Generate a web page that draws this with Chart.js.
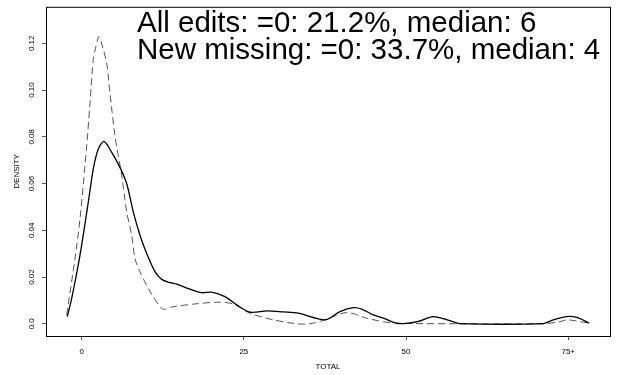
<!DOCTYPE html>
<html>
<head>
<meta charset="utf-8">
<script src="https://cdn.jsdelivr.net/npm/chart.js@4/dist/chart.umd.min.js"></script>
<style>
  html, body { margin: 0; padding: 0; background: #fff; }
  #wrap { width: 618px; height: 375px; }
</style>
</head>
<body>
<div id="wrap"><canvas id="densChart" width="618" height="375"></canvas></div>
<script>
// 곡선 데이터 (TOTAL, DENSITY)
const allX = [-2.22, -1.54, -0.26, 1.02, 1.79, 2.56, 3.44, 4.63, 5.90, 6.94, 7.96, 8.99, 10.02, 11.30, 12.33, 13.61, 14.65, 16.70, 18.50, 20.04, 22.09, 23.90, 25.95, 28.52, 31.08, 33.40, 37.51, 39.82, 41.87, 43.17, 44.96, 46.50, 48.57, 50.11, 51.90, 54.21, 56.78, 58.33, 71.17, 72.71, 74.78, 76.32, 78.22];
const allY = [0.0031, 0.0109, 0.0294, 0.0520, 0.0663, 0.0748, 0.0780, 0.0733, 0.0669, 0.0599, 0.0478, 0.0379, 0.0301, 0.0223, 0.0190, 0.0176, 0.0170, 0.0148, 0.0133, 0.0135, 0.0116, 0.0081, 0.0050, 0.0055, 0.0051, 0.0046, 0.0017, 0.0052, 0.0069, 0.0063, 0.0038, 0.0024, 0.0002, 0.0002, 0.0010, 0.0031, 0.0013, 0.0001, 0.0001, 0.0017, 0.0031, 0.0027, 0.0003];

const newX = [-2.31, -1.03, -0.26, 0.77, 1.28, 1.79, 2.20, 2.67, 3.33, 3.85, 4.36, 5.13, 6.17, 6.94, 7.71, 8.22, 8.99, 10.27, 11.04, 12.49, 14.12, 17.21, 20.81, 23.37, 25.95, 29.54, 33.15, 35.20, 37.51, 40.86, 43.94, 47.53, 56.78, 71.17, 73.74, 74.78, 76.83, 78.22];
const newY = [0.0038, 0.0279, 0.0448, 0.0760, 0.0944, 0.1130, 0.1187, 0.1229, 0.1173, 0.1116, 0.0988, 0.0804, 0.0634, 0.0478, 0.0379, 0.0279, 0.0222, 0.0151, 0.0116, 0.0063, 0.0073, 0.0084, 0.0092, 0.0085, 0.0045, 0.0017, 0.0000, 0.0000, 0.0017, 0.0048, 0.0024, 0.0005, 0.0000, 0.0000, 0.0009, 0.0017, 0.0009, 0.0003];

const xTicks = [0, 25, 50, 75];
const xTickLabels = ['0', '25', '50', '75+'];
const yTicks = [0, 0.02, 0.04, 0.06, 0.08, 0.10, 0.12];
const yTickLabels = ['0.0', '0.02', '0.04', '0.06', '0.08', '0.10', '0.12'];

const noteLines = [
  'All edits: =0: 21.2%, median: 6',
  'New missing: =0: 33.7%, median: 4'
];

const FONT = 'Arial, "Liberation Sans", Helvetica, sans-serif';

// 플롯 테두리 + 주석 텍스트
const framePlugin = {
  id: 'frame',
  afterDraw(chart) {
    const { ctx, chartArea: a } = chart;
    ctx.save();
    ctx.strokeStyle = '#000';
    ctx.lineWidth = 1;
    ctx.strokeRect(a.left + 0.5, a.top + 0.5, a.right - a.left, a.bottom - a.top);
    ctx.fillStyle = '#000';
    ctx.font = '29.5px ' + FONT;
    ctx.textBaseline = 'alphabetic';
    ctx.textAlign = 'left';
    ctx.fillText(noteLines[0], 137, 32);
    ctx.fillText(noteLines[1], 137, 59);
    ctx.restore();
  }
};

const pts = (xs, ys) => xs.map((x, i) => ({ x, y: ys[i] }));

new Chart(document.getElementById('densChart'), {
  type: 'scatter',
  data: {
    datasets: [
      {
        label: 'All edits',
        data: pts(allX, allY),
        showLine: true,
        borderColor: '#000',
        borderWidth: 1.3,
        pointRadius: 0,
        tension: 0.3
      },
      {
        label: 'New missing',
        data: pts(newX, newY),
        showLine: true,
        borderColor: '#555',
        borderWidth: 1,
        borderDash: [7, 4],
        pointRadius: 0,
        tension: 0.3
      }
    ]
  },
  options: {
    responsive: false,
    animation: false,
    layout: { padding: { top: 5, right: 8, left: 0, bottom: 0 } },
    plugins: {
      legend: { display: false },
      tooltip: { enabled: false }
    },
    scales: {
      x: {
        type: 'linear',
        min: -5.5,
        max: 81.44,
        afterBuildTicks: s => { s.ticks = xTicks.map(v => ({ value: v })); },
        afterFit: s => { s.height = 39; },
        border: { display: false },
        grid: { drawOnChartArea: false, drawTicks: true, tickLength: 4, color: '#555' },
        ticks: {
          color: '#000',
          padding: 7,
          maxRotation: 0,
          font: { family: FONT, size: 8 },
          callback: (v) => xTickLabels[xTicks.indexOf(v)]
        },
        title: {
          display: true,
          text: 'TOTAL',
          color: '#000',
          font: { family: FONT, size: 8 },
          padding: { top: 0, bottom: 3 }
        }
      },
      y: {
        type: 'linear',
        min: -0.00523,
        max: 0.1356,
        afterBuildTicks: s => { s.ticks = yTicks.map(v => ({ value: v })); },
        afterFit: s => { s.width = 46; },
        border: { display: false },
        grid: { drawOnChartArea: false, drawTicks: true, tickLength: 4, color: '#555' },
        ticks: {
          color: '#000',
          padding: 2,
          minRotation: 90,
          maxRotation: 90,
          crossAlign: 'center',
          font: { family: FONT, size: 8 },
          callback: (v) => {
            const i = yTicks.findIndex(t => Math.abs(t - v) < 1e-9);
            return i >= 0 ? yTickLabels[i] : '';
          }
        },
        title: {
          display: true,
          text: 'DENSITY',
          color: '#000',
          font: { family: FONT, size: 8 },
          padding: { top: 12, bottom: 0 }
        }
      }
    }
  },
  plugins: [framePlugin]
});
</script>
</body>
</html>
